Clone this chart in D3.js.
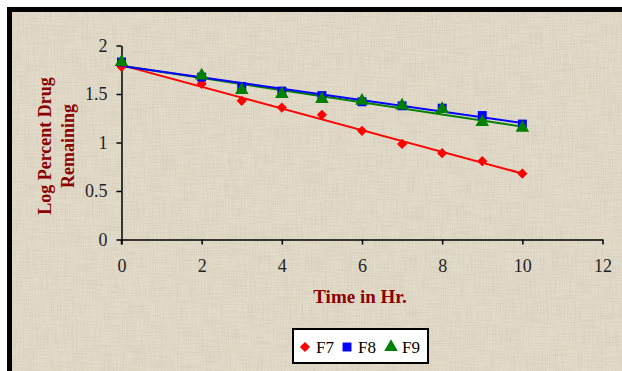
<!DOCTYPE html>
<html>
<head>
<meta charset="utf-8">
<script src="https://cdn.jsdelivr.net/npm/d3@7"></script>
<style>
  html, body { margin: 0; padding: 0; background: #fff; }
  svg { display: block; }
</style>
</head>
<body>
<svg id="chart" width="622" height="371"></svg>
<script>
// Sampling times (hours)
const hours = [0, 2, 3, 4, 5, 6, 7, 8, 9, 10];
// Log percent drug remaining per formulation
const f7 = [1.78, 1.605, 1.43, 1.36, 1.285, 1.12, 0.985, 0.89, 0.807, 0.68];
const f8 = [1.83, 1.674, 1.577, 1.53, 1.484, 1.42, 1.378, 1.354, 1.278, 1.19];
const f9 = [1.83, 1.69, 1.54, 1.50, 1.447, 1.43, 1.38, 1.345, 1.21, 1.15];
const seriesNames = ["F7", "F8", "F9"];
const xTicks = [0, 2, 4, 6, 8, 10, 12];
const yTicks = [0, 0.5, 1, 1.5, 2];

// Diamond drawn as a square turned 45 degrees
const squareDiamond = {
  draw(ctx, size) {
    const r = Math.sqrt(size / 2);
    ctx.moveTo(0, -r); ctx.lineTo(r, 0); ctx.lineTo(0, r); ctx.lineTo(-r, 0); ctx.closePath();
  }
};

const series = [
  { name: seriesNames[0], values: f7, color: "#ff0000", shape: squareDiamond, size: 52 },
  { name: seriesNames[1], values: f8, color: "#0000ff", shape: d3.symbolSquare, size: 80 },
  { name: seriesNames[2], values: f9, color: "#008000", shape: d3.symbolTriangle, size: 80 }
];

const svg = d3.select("#chart");
const W = 622, H = 371;

// Parchment-style backdrop texture
const defs = svg.append("defs");
const filt = defs.append("filter").attr("id", "grain")
  .attr("x", 0).attr("y", 0).attr("width", "100%").attr("height", "100%");
filt.append("feTurbulence").attr("type", "fractalNoise")
  .attr("baseFrequency", "0.9 0.04").attr("numOctaves", 2).attr("seed", 3).attr("result", "n1");
filt.append("feColorMatrix").attr("in", "n1").attr("type", "matrix")
  .attr("values", "0 0 0 0 0.55  0 0 0 0 0.5  0 0 0 0 0.4  0 0 0 -1.6 0.95").attr("result", "v");
filt.append("feTurbulence").attr("type", "fractalNoise")
  .attr("baseFrequency", "0.04 0.9").attr("numOctaves", 2).attr("seed", 7).attr("result", "n2");
filt.append("feColorMatrix").attr("in", "n2").attr("type", "matrix")
  .attr("values", "0 0 0 0 0.55  0 0 0 0 0.5  0 0 0 0 0.4  0 0 0 -1.6 0.95").attr("result", "h");
filt.append("feMerge").selectAll("feMergeNode").data(["v", "h"]).join("feMergeNode").attr("in", d => d);

// Frame
svg.append("rect").attr("x", 7).attr("y", 7).attr("width", W).attr("height", H).attr("fill", "#000");
svg.append("rect").attr("x", 12).attr("y", 12).attr("width", W).attr("height", H).attr("fill", "#e3dbc9");
svg.append("rect").attr("x", 12).attr("y", 12).attr("width", W).attr("height", H)
  .attr("filter", "url(#grain)").attr("opacity", 0.4);

const x = d3.scaleLinear().domain([0, 12]).range([121.5, 602.5]);
const y = d3.scaleLinear().domain([0, 2]).range([239.5, 45.5]);

const serif = "'Liberation Serif', 'Times New Roman', serif";

// Axes
const xAxis = svg.append("g").attr("transform", `translate(0,${y(0)})`)
  .call(d3.axisBottom(x).tickValues(xTicks).tickSize(5).tickSizeOuter(0).tickFormat(d3.format("d")));
const yAxis = svg.append("g").attr("transform", `translate(${x(0)},0)`)
  .call(d3.axisLeft(y).tickValues(yTicks).tickSize(5).tickSizeOuter(0).tickFormat(d => d));

[xAxis, yAxis].forEach(g => {
  g.select(".domain").attr("stroke", "#000").attr("stroke-width", 1.5);
  g.selectAll(".tick line").attr("stroke", "#000").attr("stroke-width", 1.5);
  g.selectAll(".tick text").attr("font-family", serif).attr("font-size", 18).attr("fill", "#222");
});
xAxis.selectAll(".tick text").attr("dy", "0.71em").attr("y", 20);
yAxis.selectAll(".tick text").attr("x", -14).attr("text-anchor", "end");
// y axis continues a little below zero
yAxis.append("line").attr("x1", 0).attr("x2", 0).attr("y1", y(0)).attr("y2", y(0) + 5)
  .attr("stroke", "#000").attr("stroke-width", 1.5);

// Axis titles
svg.append("text").attr("x", 360).attr("y", 303).attr("text-anchor", "middle")
  .attr("font-family", serif).attr("font-weight", "bold").attr("font-size", 19)
  .attr("fill", "#8b0000").text("Time in Hr.");
const yt = svg.append("text").attr("transform", "translate(51,146) rotate(-90)")
  .attr("text-anchor", "middle").attr("font-family", serif).attr("font-weight", "bold")
  .attr("font-size", 18).attr("fill", "#8b0000");
yt.append("tspan").attr("x", 0).attr("dy", 0).text("Log Percent Drug");
yt.append("tspan").attr("x", 0).attr("dy", 23).text("Remaining");

// Least-squares trend line for each series
function fit(xs, ys) {
  const n = xs.length;
  const mx = d3.mean(xs), my = d3.mean(ys);
  let sxy = 0, sxx = 0;
  for (let i = 0; i < n; i++) { sxy += (xs[i] - mx) * (ys[i] - my); sxx += (xs[i] - mx) ** 2; }
  const b = sxy / sxx;
  return { b, a: my - b * mx };
}

const plot = svg.append("g");
// Draw order: F7, F9, F8 lines so the blue trend sits above green
[series[0], series[2], series[1]].forEach(s => {
  const { a, b } = fit(hours, s.values);
  const x0 = d3.min(hours), x1 = d3.max(hours);
  plot.append("line")
    .attr("x1", x(x0)).attr("y1", y(a + b * x0))
    .attr("x2", x(x1)).attr("y2", y(a + b * x1))
    .attr("stroke", s.color).attr("stroke-width", 2);
});

series.forEach(s => {
  plot.append("g").selectAll("path")
    .data(hours.map((h, i) => [h, s.values[i]]))
    .join("path")
    .attr("transform", d => `translate(${x(d[0])},${y(d[1])})`)
    .attr("d", d3.symbol().type(s.shape).size(s.size))
    .attr("fill", s.color);
});

// Legend
const lg = svg.append("g").attr("transform", "translate(293,329)");
lg.append("rect").attr("width", 135).attr("height", 34).attr("fill", "#fff")
  .attr("stroke", "#000").attr("stroke-width", 2);
const itemX = [12, 54, 98];
series.forEach((s, i) => {
  lg.append("path").attr("transform", `translate(${itemX[i]},18)`)
    .attr("d", d3.symbol().type(s.shape).size(s.size)).attr("fill", s.color);
  lg.append("text").attr("x", itemX[i] + 11).attr("y", 18).attr("dy", "0.35em")
    .attr("font-family", serif).attr("font-size", 17).attr("fill", "#000").text(s.name);
});
</script>
</body>
</html>
